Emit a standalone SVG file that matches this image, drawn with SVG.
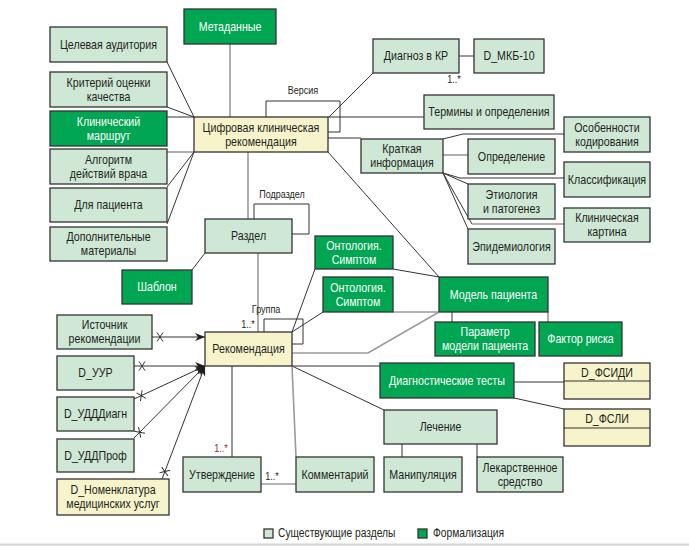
<svg xmlns="http://www.w3.org/2000/svg" width="689" height="546" viewBox="0 0 689 546">
<style>
text{font-family:"Liberation Sans Narrow","Liberation Sans",Arial,sans-serif;font-size:13px;text-anchor:middle;fill:#231f20;transform-box:fill-box;transform-origin:center;transform:scaleX(0.82)}
.lg{fill:#cfe8d6;stroke:#333;stroke-width:1.3}
.g{fill:#00a651;stroke:#333;stroke-width:1.3}
.y{fill:#f7f4cc;stroke:#333;stroke-width:1.3}
.w{fill:#fff}
.c{fill:none;stroke:#333;stroke-width:1}
.cg{fill:none;stroke:#9a9a9a;stroke-width:1.6}
.lbl{font-size:11px}
.red{fill:#8b2d1e}
.leg{text-anchor:start;font-size:12.5px;transform-origin:left center}
</style>
<defs>
<marker id="ah" markerUnits="userSpaceOnUse" markerWidth="12" markerHeight="10" viewBox="-10 -5 12 10" refX="0" refY="0" orient="auto" overflow="visible">
<path d="M-10,-4 L0,0 L-10,4 L-7,0 Z" fill="#231f20"/>
</marker>
<marker id="xs" markerUnits="userSpaceOnUse" markerWidth="14" markerHeight="12" viewBox="0 -6 14 12" refX="0" refY="0" orient="auto" overflow="visible">
<path d="M5,-4.5 L11,4.5 M5,4.5 L11,-4.5" stroke="#333" stroke-width="1" fill="none"/>
</marker>
</defs>
<rect width="689" height="546" fill="#fff"/>
<g id="connectors">
<path class="c" d="M167,62 L194,117"/>
<path class="c" d="M167,107 L194,117"/>
<path class="c" d="M167,117 H194"/>
<path class="cg" d="M167,152 H194"/>
<path class="c" d="M194,152 L167,187"/>
<path class="c" d="M194,152 L167,224"/>
<path class="cg" d="M230,44 V117"/>
<path class="c" d="M266,117 V101 H340 V132 H328"/>
<path class="c" d="M329,117 L373,73"/>
<path class="c" d="M459,56 H474"/>
<path class="c" d="M328,117 H424"/>
<path class="c" d="M328,138 H361"/>
<path class="c" d="M443,139 L463,134 H564"/>
<path class="cg" d="M443,155 H468"/>
<path class="c" d="M443,173 L460,178 H564"/>
<path class="c" d="M443,173 L468,184"/>
<path class="c" d="M443,173 L472,224"/>
<path class="cg" d="M472,224 H564"/>
<path class="c" d="M443,173 L468,229"/>
<path class="cg" d="M248,152 V219"/>
<path class="c" d="M254,219 V204 H309 V234 H292"/>
<path class="c" d="M192,270 L205,253"/>
<path class="cg" d="M258,253 V332"/>
<path class="c" d="M264,332 V319 H303 V344 H292"/>
<path class="c" d="M328,152 L439,277"/>
<path class="c" d="M292,332 L315,269"/>
<path class="c" d="M393,269 L439,277"/>
<path class="c" d="M292,332 L323,312"/>
<path class="cg" d="M393,312 H439"/>
<path class="cg" d="M292,353 H368 L439,312"/>
<path class="c" d="M452,312 V322"/>
<path class="cg" d="M548,312 V322"/>
<path class="c" d="M292,366 H380"/>
<path class="c" d="M514,382 H564"/>
<path class="c" d="M514,398 L564,409"/>
<path class="c" d="M292,366 L384,410"/>
<path class="c" d="M402,444 V457"/>
<path class="c" d="M477,444 V457"/>
<path class="cg" d="M292,366 L296,457"/>
<path class="c" d="M232,366 V457"/>
<path class="cg" d="M261,484 H296"/>
<path class="c" d="M152,337 H205" marker-start="url(#xs)" marker-end="url(#ah)"/>
<path class="c" d="M134,366 H205" marker-start="url(#xs)" marker-end="url(#ah)"/>
<path class="c" d="M134,399 L205,366" marker-start="url(#xs)" marker-end="url(#ah)"/>
<path class="c" d="M134,438 L205,366" marker-start="url(#xs)" marker-end="url(#ah)"/>
<path class="c" d="M162,479 L205,366" marker-start="url(#xs)" marker-end="url(#ah)"/>
<text class="lbl" x="303" y="94">Версия</text>
<text class="lbl" x="454" y="83">1..*</text>
<text class="lbl" x="282" y="198">Подраздел</text>
<text class="lbl" x="266" y="313">Группа</text>
<text class="lbl" x="248" y="328">1..*</text>
<text class="lbl red" x="221" y="452">1..*</text>
<text class="lbl" x="272" y="480">1..*</text>
</g>
<g id="meta"><rect class="g" x="184" y="9" width="92" height="35"/><text class="w" x="230" y="31">Метаданные</text></g>
<g id="ca"><rect class="lg" x="50" y="27" width="117" height="35"/><text x="108.5" y="49">Целевая аудитория</text></g>
<g id="krit"><rect class="lg" x="50" y="72" width="117" height="35"/><text x="108.5" y="87">Критерий оценки</text><text x="108.5" y="101">качества</text></g>
<g id="klin"><rect class="g" x="50" y="111" width="117" height="35"/><text class="w" x="108.5" y="126">Клинический</text><text class="w" x="108.5" y="140">маршрут</text></g>
<g id="alg"><rect class="lg" x="50" y="149" width="117" height="35"/><text x="108.5" y="164">Алгоритм</text><text x="108.5" y="178">действий врача</text></g>
<g id="pac"><rect class="lg" x="50" y="188" width="117" height="34"/><text x="108.5" y="209.5">Для пациента</text></g>
<g id="dop"><rect class="lg" x="50" y="227" width="117" height="34"/><text x="108.5" y="241.5">Дополнительные</text><text x="108.5" y="255.5">материалы</text></g>
<g id="ckr"><rect class="y" x="194" y="117" width="134" height="35"/><text x="261" y="132">Цифровая клиническая</text><text x="261" y="146">рекомендация</text></g>
<g id="diag"><rect class="lg" x="373" y="39" width="86" height="34"/><text x="416" y="60.5">Диагноз в КР</text></g>
<g id="mkb"><rect class="lg" x="474" y="39" width="70" height="34"/><text x="509" y="60.5">D_МКБ-10</text></g>
<g id="term"><rect class="lg" x="424" y="95" width="130" height="34"/><text x="489" y="116.5">Термины и определения</text></g>
<g id="kratk"><rect class="lg" x="361" y="139" width="82" height="34"/><text x="402" y="153.5">Краткая</text><text x="402" y="167.5">информация</text></g>
<g id="osob"><rect class="lg" x="564" y="117" width="86" height="35"/><text x="607" y="132">Особенности</text><text x="607" y="146">кодирования</text></g>
<g id="opr"><rect class="lg" x="468" y="139" width="87" height="35"/><text x="511.5" y="161">Определение</text></g>
<g id="klass"><rect class="lg" x="564" y="162" width="86" height="35"/><text x="607" y="184">Классификация</text></g>
<g id="etio"><rect class="lg" x="468" y="184" width="87" height="35"/><text x="511.5" y="199">Этиология</text><text x="511.5" y="213">и патогенез</text></g>
<g id="kart"><rect class="lg" x="564" y="208" width="86" height="34"/><text x="607" y="222.5">Клиническая</text><text x="607" y="236.5">картина</text></g>
<g id="epid"><rect class="lg" x="468" y="229" width="87" height="35"/><text x="511.5" y="251">Эпидемиология</text></g>
<g id="razd"><rect class="lg" x="205" y="219" width="87" height="34"/><text x="248.5" y="240.5">Раздел</text></g>
<g id="shab"><rect class="g" x="122" y="270" width="70" height="34"/><text class="w" x="157" y="291.5">Шаблон</text></g>
<g id="ont1"><rect class="g" x="315" y="236" width="78" height="33"/><text class="w" x="354" y="250">Онтология.</text><text class="w" x="354" y="264">Симптом</text></g>
<g id="ont2"><rect class="g" x="323" y="277" width="70" height="35"/><text class="w" x="358" y="292">Онтология.</text><text class="w" x="358" y="306">Симптом</text></g>
<g id="model"><rect class="g" x="439" y="277" width="109" height="35"/><text class="w" x="493.5" y="299">Модель пациента</text></g>
<g id="param"><rect class="g" x="435" y="322" width="100" height="34"/><text class="w" x="485" y="336.5">Параметр</text><text class="w" x="485" y="350.5">модели пациента</text></g>
<g id="faktor"><rect class="g" x="539" y="322" width="83" height="34"/><text class="w" x="580.5" y="343.5">Фактор риска</text></g>
<g id="rek"><rect class="y" x="205" y="332" width="87" height="34"/><text x="248.5" y="353.5">Рекомендация</text></g>
<g id="ist"><rect class="lg" x="57" y="315" width="95" height="34"/><text x="104.5" y="329.5">Источник</text><text x="104.5" y="343.5">рекомендации</text></g>
<g id="uur"><rect class="lg" x="57" y="356" width="77" height="34"/><text x="95.5" y="377.5">D_УУР</text></g>
<g id="uddd"><rect class="lg" x="57" y="397" width="77" height="34"/><text x="95.5" y="418.5">D_УДДДиагн</text></g>
<g id="uddp"><rect class="lg" x="57" y="439" width="77" height="33"/><text x="95.5" y="460">D_УДДПроф</text></g>
<g id="nom"><rect class="y" x="57" y="479" width="112" height="36"/><text x="113" y="494">D_Номенклатура</text><text x="113" y="508">медицинских услуг</text></g>
<g id="dt"><rect class="g" x="380" y="363" width="134" height="35"/><text class="w" x="447" y="385">Диагностические тесты</text></g>
<g id="fsidi"><rect class="y" x="564" y="363" width="86" height="36"/><path class="c" d="M564,381 H650" stroke-width="1.3"/><text x="607" y="377">D_ФСИДИ</text></g>
<g id="fsli"><rect class="y" x="564" y="409" width="86" height="37"/><path class="c" d="M564,428 H650" stroke-width="1.3"/><text x="607" y="423">D_ФСЛИ</text></g>
<g id="lech"><rect class="lg" x="384" y="410" width="113" height="34"/><text x="440.5" y="431.5">Лечение</text></g>
<g id="manip"><rect class="lg" x="384" y="457" width="78" height="35"/><text x="423" y="479">Манипуляция</text></g>
<g id="lek"><rect class="lg" x="477" y="457" width="86" height="35"/><text x="520" y="472">Лекарственное</text><text x="520" y="486">средство</text></g>
<g id="koment"><rect class="lg" x="296" y="457" width="78" height="35"/><text x="335" y="479">Комментарий</text></g>
<g id="utv"><rect class="lg" x="183" y="457" width="78" height="35"/><text x="222" y="479">Утверждение</text></g>
<g id="legend">
<rect class="lg" x="264" y="529" width="9" height="9"/><text class="leg" x="278" y="537.5">Существующие разделы</text>
<rect class="g" x="418" y="529" width="9" height="9"/><text class="leg" x="433" y="537.5">Формализация</text>
</g>
<path d="M0,544.5 H689" stroke="#d4d4d4" stroke-width="2"/>
</svg>
